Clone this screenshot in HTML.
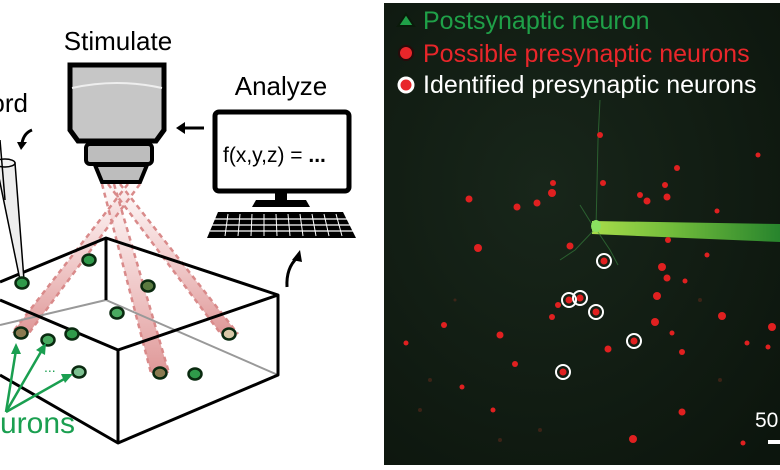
<!DOCTYPE html>
<html><head><style>html,body{margin:0;padding:0;background:#fff}svg{display:block}</style></head>
<body>
<svg width="780" height="470" viewBox="0 0 780 470" xmlns="http://www.w3.org/2000/svg" font-family="Liberation Sans, sans-serif">
<defs>
<linearGradient id="bm" x1="0" y1="0" x2="0" y2="1"><stop offset="0" stop-color="#e8a0a0" stop-opacity="0.05"/><stop offset="0.45" stop-color="#e39a9a" stop-opacity="0.45"/><stop offset="1" stop-color="#d98585" stop-opacity="0.85"/></linearGradient>
<linearGradient id="pip" x1="0" y1="0" x2="1" y2="0"><stop offset="0" stop-color="#b8f050"/><stop offset="0.4" stop-color="#80d040"/><stop offset="1" stop-color="#2a9030"/></linearGradient>
<radialGradient id="bg" cx="0.4" cy="0.4" r="0.8"><stop offset="0" stop-color="#18261a"/><stop offset="1" stop-color="#0c150d"/></radialGradient>
</defs>
<rect width="780" height="470" fill="#fff"/>
<!-- beams -->
<g>
<polygon points="128,184 140,184 29,333 12,333" fill="url(#bm)"/>
<polygon points="102,184 114,184 169,373 151,373" fill="url(#bm)"/>
<polygon points="108,184 120,184 238,334 221,334" fill="url(#bm)"/>
<g stroke="#d98a8a" stroke-width="2.5" stroke-dasharray="5,4" fill="none">
<line x1="128" y1="184" x2="12" y2="333"/><line x1="140" y1="184" x2="29" y2="333"/>
<line x1="102" y1="184" x2="151" y2="373"/><line x1="114" y1="184" x2="169" y2="373"/>
<line x1="108" y1="184" x2="221" y2="334"/><line x1="120" y1="184" x2="238" y2="334"/>
</g></g>
<!-- box -->
<g fill="none" stroke-linejoin="round">
<polyline points="0,325 106,300 278,375" stroke="#999" stroke-width="2"/>
<line x1="106" y1="238" x2="106" y2="300" stroke="#000" stroke-width="3"/>
<polyline points="0,282 106,238 278,295 278,375 118,443 0,375" stroke="#000" stroke-width="3"/>
<polyline points="0,300 118,350 278,295" stroke="#000" stroke-width="3"/>
<line x1="118" y1="350" x2="118" y2="443" stroke="#000" stroke-width="3"/>
</g>
<!-- pipette -->
<polygon points="-4,163 15,163 24,280 20,280" fill="#eee" stroke="#000" stroke-width="1.5"/>
<ellipse cx="5" cy="163" rx="10" ry="4" fill="#f4f4f4" stroke="#000" stroke-width="1.5"/>
<line x1="0" y1="140" x2="5" y2="200" stroke="#000" stroke-width="1.5"/>
<!-- neurons -->
<g fill="#2f9a4a" stroke="#0a2a10" stroke-width="2.5">
<ellipse cx="89" cy="260" rx="6.5" ry="5.5"/><ellipse cx="22" cy="283" rx="6.5" ry="5.5"/><ellipse cx="148" cy="286" rx="6.5" ry="5.5" fill="#5a7a40"/>
<ellipse cx="117" cy="313" rx="6.5" ry="5.5" fill="#4aaa60"/><ellipse cx="21" cy="333" rx="6.5" ry="5.5" fill="#8a7a50"/><ellipse cx="48" cy="340" rx="6.5" ry="5.5" fill="#4aaa60"/>
<ellipse cx="72" cy="334" rx="6.5" ry="5.5"/><ellipse cx="79" cy="372" rx="6.5" ry="5.5" fill="#7cc090"/><ellipse cx="160" cy="373" rx="6.5" ry="5.5" fill="#8a7a50"/>
<ellipse cx="195" cy="374" rx="6.5" ry="5.5"/><ellipse cx="229" cy="334" rx="6.5" ry="5.5" fill="#d8c8a8"/>
</g>
<!-- green arrows -->
<g stroke="#1a9f50" stroke-width="2.5" fill="#1a9f50">
<line x1="6" y1="412" x2="16" y2="350"/><polygon points="16,343 11,354 21,354" stroke="none"/>
<line x1="6" y1="412" x2="42" y2="350"/><polygon points="46,343 36,350 45,355" stroke="none"/>
<line x1="6" y1="412" x2="66" y2="378"/><polygon points="73,374 61,374 65,383" stroke="none"/>
</g>
<text x="44" y="372" fill="#1a9f50" font-size="14">...</text>
<text x="75" y="433" text-anchor="end" fill="#1a9f50" font-size="30">urons</text>
<!-- record -->
<text x="28" y="112" text-anchor="end" font-size="26">ord</text>
<path d="M32,130 Q24,133 22,143" fill="none" stroke="#000" stroke-width="3"/>
<polygon points="17,142 27,142 21,150"/>
<!-- objective -->
<text x="118" y="50" text-anchor="middle" font-size="26">Stimulate</text>
<polygon points="70,65 164,65 164,130 156,141 78,141 70,130" fill="#c6c6c6" stroke="#000" stroke-width="5"/>
<path d="M72,88 Q117,78 162,88" fill="none" stroke="#eee" stroke-width="2"/>
<rect x="86" y="144" width="66" height="20" rx="4" fill="#bdbdbd" stroke="#000" stroke-width="4"/>
<polygon points="95,165 147,165 140,182 102,182" fill="#bdbdbd" stroke="#000" stroke-width="4"/>
<!-- arrow to objective -->
<line x1="183" y1="128" x2="204" y2="128" stroke="#000" stroke-width="3"/>
<polygon points="176,128 185,122 185,134"/>
<!-- analyze -->
<text x="281" y="95" text-anchor="middle" font-size="26">Analyze</text>
<rect x="215" y="112" width="134" height="79" rx="4" fill="#fff" stroke="#000" stroke-width="5"/>
<text x="223" y="162" font-size="21">f(x,y,z) = <tspan font-weight="bold">...</tspan></text>
<rect x="275" y="192" width="12" height="8"/>
<polygon points="256,200 306,200 310,207 252,207"/>
<polygon points="218,212 343,212 356,238 207,238"/>
<g stroke="#fff" stroke-width="1.2">
<line x1="214" y1="219" x2="349" y2="219"/><line x1="212" y1="225" x2="352" y2="225"/><line x1="210" y1="231" x2="354" y2="231"/>
</g>
<g stroke="#fff" stroke-width="1">
<line x1="228" y1="214" x2="225" y2="236"/><line x1="240" y1="214" x2="238" y2="236"/><line x1="252" y1="214" x2="251" y2="236"/><line x1="264" y1="214" x2="264" y2="236"/><line x1="276" y1="214" x2="277" y2="236"/><line x1="288" y1="214" x2="290" y2="236"/><line x1="300" y1="214" x2="303" y2="236"/><line x1="312" y1="214" x2="316" y2="236"/><line x1="324" y1="214" x2="329" y2="236"/><line x1="336" y1="214" x2="342" y2="236"/>
</g>
<path d="M287,287 Q286,268 297,258" fill="none" stroke="#000" stroke-width="3"/>
<polygon points="300,250 292,260 302,262"/>
<!-- right panel -->
<rect x="384" y="3" width="396" height="462" fill="url(#bg)"/>
<polygon points="592,221 780,224 780,242 592,234" fill="url(#pip)" opacity="0.9"/>
<g stroke="#3a8a40" stroke-width="1" fill="none" opacity="0.6">
<path d="M596,228 L598,140 L600,100"/><path d="M594,230 L575,250 L560,260"/><path d="M598,232 L610,250 L618,265"/><path d="M593,226 L580,205"/>
</g>
<ellipse cx="596" cy="226" rx="5" ry="6" fill="#8ae060"/>
<g fill="#e02020">
<circle cx="600" cy="135" r="3"/><circle cx="677" cy="168" r="3"/><circle cx="553" cy="183" r="3"/><circle cx="469" cy="199" r="3.5"/><circle cx="517" cy="207" r="3.5"/><circle cx="537" cy="203" r="3.5"/><circle cx="552" cy="193" r="4"/><circle cx="603" cy="183" r="3"/><circle cx="640" cy="195" r="3"/><circle cx="647" cy="201" r="3.5"/><circle cx="665" cy="185" r="3"/><circle cx="667" cy="197" r="3.5"/><circle cx="717" cy="211" r="2.5"/><circle cx="478" cy="248" r="4"/><circle cx="570" cy="246" r="3.5"/><circle cx="668" cy="240" r="3"/><circle cx="707" cy="255" r="2.5"/><circle cx="758" cy="155" r="2.5"/><circle cx="662" cy="267" r="4"/><circle cx="667" cy="278" r="3.5"/><circle cx="685" cy="281" r="2.5"/><circle cx="657" cy="296" r="4"/><circle cx="722" cy="316" r="4"/><circle cx="772" cy="327" r="4"/><circle cx="655" cy="322" r="4"/><circle cx="558" cy="305" r="3"/><circle cx="552" cy="317" r="3"/><circle cx="608" cy="349" r="3.5"/><circle cx="672" cy="333" r="2.5"/><circle cx="682" cy="352" r="3"/><circle cx="500" cy="335" r="3.5"/><circle cx="444" cy="325" r="3"/><circle cx="406" cy="343" r="2.5"/><circle cx="515" cy="364" r="3"/><circle cx="462" cy="387" r="2.5"/><circle cx="682" cy="412" r="3.5"/><circle cx="633" cy="439" r="4"/><circle cx="743" cy="443" r="2.5"/><circle cx="768" cy="347" r="2.5"/><circle cx="747" cy="343" r="2.5"/><circle cx="493" cy="410" r="2.5"/>
<circle cx="604" cy="261" r="3.5"/><circle cx="569" cy="300" r="3.5"/><circle cx="580" cy="298" r="3.5"/><circle cx="596" cy="312" r="3.5"/><circle cx="634" cy="341" r="3.5"/><circle cx="563" cy="372" r="3.5"/>
</g>
<g fill="#5a2a1a" opacity="0.6">
<circle cx="430" cy="380" r="2"/><circle cx="420" cy="410" r="2"/><circle cx="500" cy="440" r="2"/><circle cx="455" cy="300" r="1.5"/><circle cx="700" cy="300" r="2"/><circle cx="720" cy="380" r="2"/><circle cx="540" cy="430" r="2"/>
</g>
<g fill="none" stroke="#fff" stroke-width="2">
<circle cx="604" cy="261" r="7"/><circle cx="569" cy="300" r="7"/><circle cx="580" cy="298" r="7"/><circle cx="596" cy="312" r="7"/><circle cx="634" cy="341" r="7"/><circle cx="563" cy="372" r="7"/>
</g>
<polygon points="406,14 414,26 398,26" fill="#1fa048" stroke="#0a1a0a" stroke-width="2"/>
<text x="423" y="29" fill="#1fa048" font-size="25">Postsynaptic neuron</text>
<circle cx="406" cy="53" r="7" fill="#e8262a" stroke="#2a0a0a" stroke-width="2"/>
<text x="423" y="62" fill="#e8262a" font-size="25">Possible presynaptic neurons</text>
<circle cx="406" cy="85" r="7" fill="#e8262a" stroke="#fff" stroke-width="3"/>
<text x="423" y="93" fill="#fff" font-size="25">Identified presynaptic neurons</text>
<text x="755" y="427" fill="#fff" font-size="21">50</text>
<rect x="768" y="440" width="12" height="4" fill="#fff"/>
</svg>
</body></html>
